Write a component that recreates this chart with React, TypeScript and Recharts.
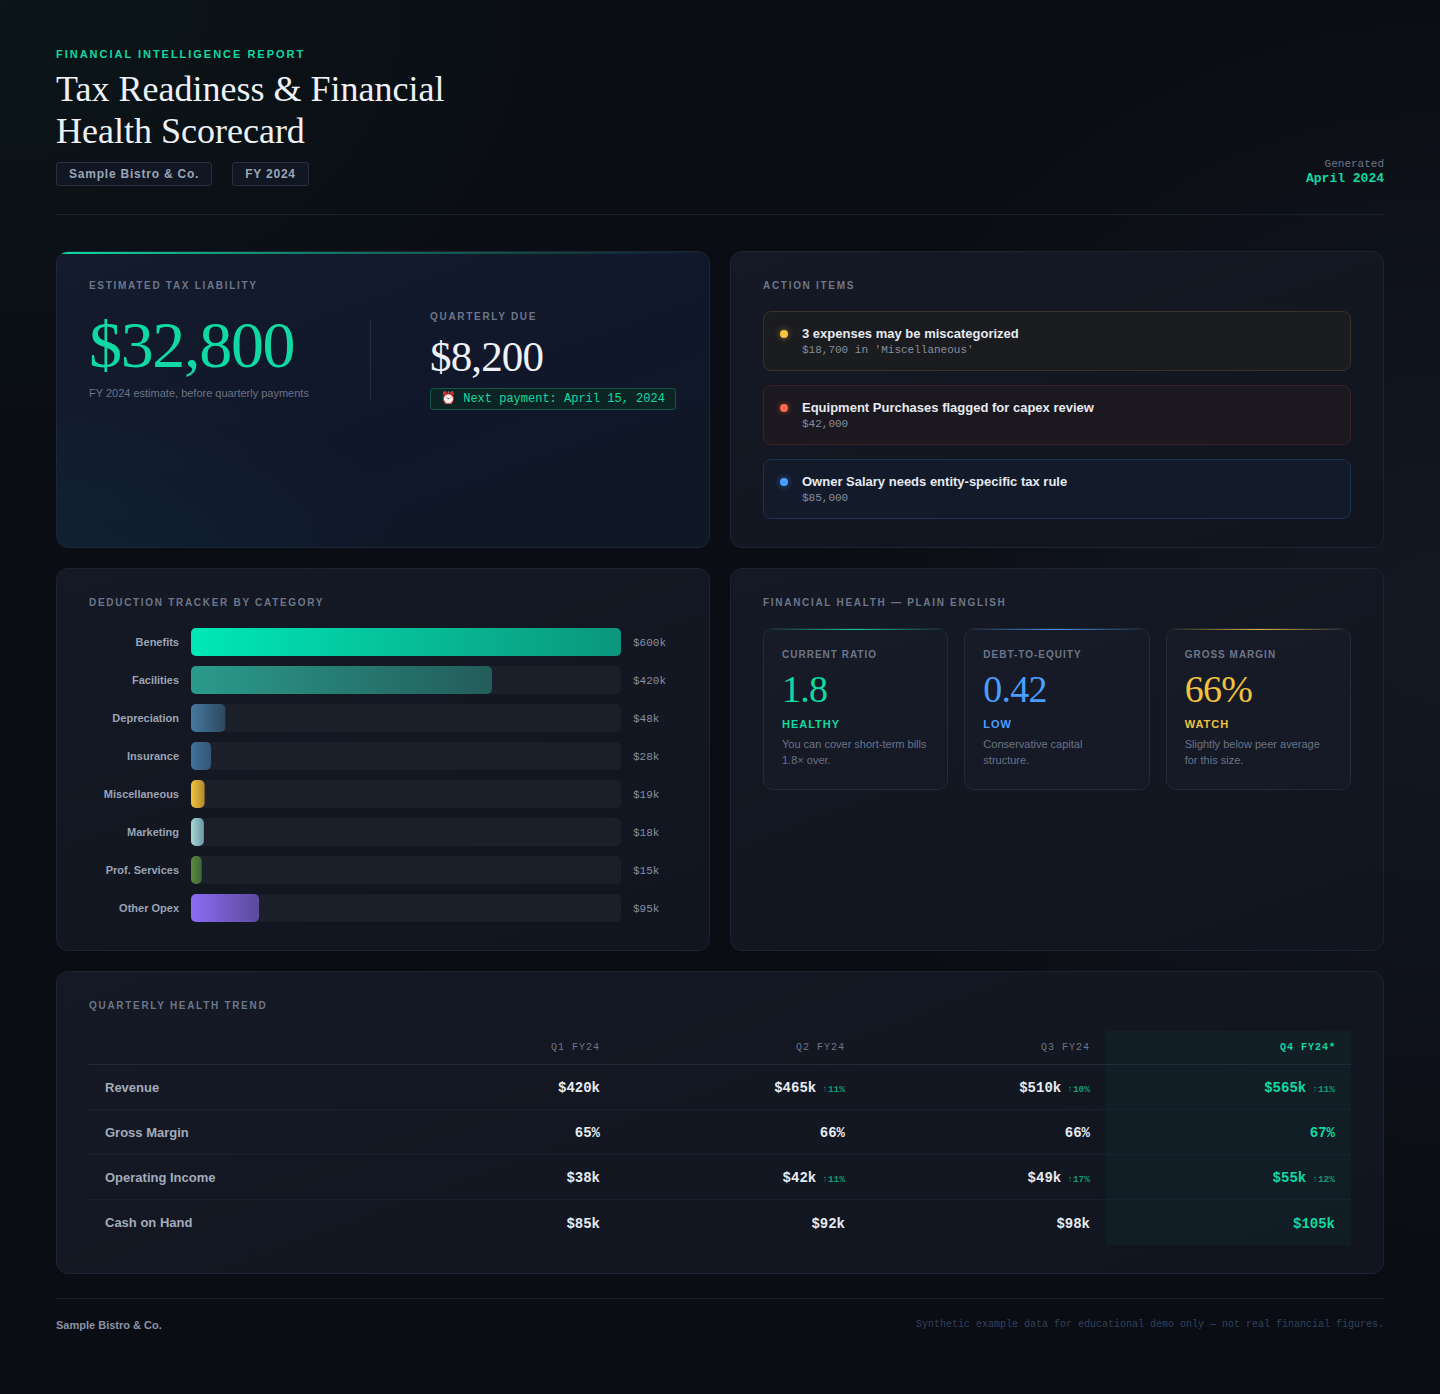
import React from 'react';
import { BarChart, Bar, XAxis, YAxis, Cell } from 'recharts';

const SANS = '"Liberation Sans", Arial, Helvetica, sans-serif';
const MONO = '"Liberation Mono", "DejaVu Sans Mono", monospace';
const SERIF = '"Liberation Serif", "Times New Roman", serif';

// ---------- Data ----------
const deductionCategories = ['Benefits', 'Facilities', 'Depreciation', 'Insurance', 'Miscellaneous', 'Marketing', 'Prof. Services', 'Other Opex'];
const deductionValues = [600, 420, 48, 28, 19, 18, 15, 95]; // $k
const deductionMax = 600;
const deductionColors: [string, string][] = [
  ['#00e8b7', '#0b967c'],
  ['#2a9b8b', '#235c5a'],
  ['#46799f', '#2e4760'],
  ['#40739a', '#33557a'],
  ['#f2c43a', '#b0882e'],
  ['#a9d6d6', '#6a98a2'],
  ['#5b8b3d', '#3e6838'],
  ['#8b6df3', '#5b4a9c'],
];

const actionTitles = ['3 expenses may be miscategorized', 'Equipment Purchases flagged for capex review', 'Owner Salary needs entity-specific tax rule'];
const actionDetails = ["$18,700 in 'Miscellaneous'", '$42,000', '$85,000'];

const healthLabels = ['CURRENT RATIO', 'DEBT-TO-EQUITY', 'GROSS MARGIN'];
const healthValues = ['1.8', '0.42', '66%'];
const healthStatus = ['HEALTHY', 'LOW', 'WATCH'];
const healthNotes = ['You can cover short-term bills 1.8× over.', 'Conservative capital structure.', 'Slightly below peer average for this size.'];

const quarters = ['Q1 FY24', 'Q2 FY24', 'Q3 FY24', 'Q4 FY24'];
const trendRows = ['Revenue', 'Gross Margin', 'Operating Income', 'Cash on Hand'];
const revenue = ['$420k', '$465k', '$510k', '$565k'];
const revenueChange = ['', '11%', '10%', '11%'];
const grossMargin = ['65%', '66%', '66%', '67%'];
const grossMarginChange = ['', '', '', ''];
const operatingIncome = ['$38k', '$42k', '$49k', '$55k'];
const operatingIncomeChange = ['', '11%', '17%', '12%'];
const cashOnHand = ['$85k', '$92k', '$98k', '$105k'];
const cashOnHandChange = ['', '', '', ''];
const trendValues = [revenue, grossMargin, operatingIncome, cashOnHand];
const trendChanges = [revenueChange, grossMarginChange, operatingIncomeChange, cashOnHandChange];

const deductionData = deductionCategories.map((name, i) => ({ name, value: deductionValues[i] }));

// ---------- Styles ----------
const GREEN = '#10d9a3';
const cardBase: React.CSSProperties = {
  position: 'absolute',
  borderRadius: 12,
  border: '1px solid #1d2330',
  background: 'linear-gradient(160deg, #141925 0%, #11151f 100%)',
  boxSizing: 'border-box',
  overflow: 'hidden',
};
const sectionLabel: React.CSSProperties = {
  position: 'absolute',
  left: 32,
  top: 28,
  fontFamily: SANS,
  fontSize: 10,
  fontWeight: 700,
  letterSpacing: '0.17em',
  color: '#6d7689',
  lineHeight: '12px',
  whiteSpace: 'nowrap',
};

const dotColors = ['#f5c542', '#ff6a4d', '#4a9eff'];
const itemBg = ['#1b1c20', '#1c1820', '#131b2b'];
const itemBorder = ['#373223', '#3b2127', '#1c3050'];
const healthColors = ['#10d9a3', '#4a9eff', '#f0c23f'];

function App() {
  return (
    <div
      style={{
        position: 'relative',
        width: 1440,
        height: 1394,
        overflow: 'hidden',
        background:
          'radial-gradient(ellipse 900px 700px at 0% 0%, rgba(16,60,50,0.18), transparent 70%), radial-gradient(ellipse 900px 900px at 100% 45%, rgba(30,36,52,0.5), transparent 70%), #0a0d13',
        fontFamily: SANS,
      }}
    >
      <style>{`body{margin:0;background:#0a0d13;}`}</style>

      {/* Header */}
      <div style={{ position: 'absolute', left: 56, top: 48, fontSize: 11, fontWeight: 700, letterSpacing: '0.18em', color: GREEN, lineHeight: '13px', whiteSpace: 'nowrap' }}>
        FINANCIAL INTELLIGENCE REPORT
      </div>
      <div style={{ position: 'absolute', left: 56, top: 68, fontFamily: SERIF, fontSize: 36, lineHeight: '42px', color: '#eef1f6', width: 460 }}>
        Tax Readiness &amp; Financial<br />Health Scorecard
      </div>
      <div style={{ position: 'absolute', left: 56, top: 162, display: 'flex', gap: 20 }}>
        {['Sample Bistro & Co.', 'FY 2024'].map((t) => (
          <div
            key={t}
            style={{
              height: 24,
              boxSizing: 'border-box',
              padding: '0 12px',
              border: '1px solid #283040',
              borderRadius: 3,
              background: '#111722',
              color: '#9aa5b7',
              fontSize: 12,
              fontWeight: 700,
              letterSpacing: '0.065em',
              lineHeight: '22px',
              whiteSpace: 'nowrap',
            }}
          >
            {t}
          </div>
        ))}
      </div>
      <div style={{ position: 'absolute', right: 56, top: 158, textAlign: 'right', fontFamily: MONO }}>
        <div style={{ fontSize: 11, color: '#6d7689', lineHeight: '13px' }}>Generated</div>
        <div style={{ fontSize: 13, fontWeight: 700, color: GREEN, lineHeight: '15px' }}>April 2024</div>
      </div>
      <div style={{ position: 'absolute', left: 56, width: 1328, top: 214, height: 1, background: '#1a202a' }} />

      {/* Tax liability card */}
      <div
        style={{
          ...cardBase,
          left: 56,
          top: 251,
          width: 654,
          height: 297,
          border: '1px solid #1b2636',
          background:
            'radial-gradient(ellipse 500px 260px at 0% 100%, rgba(16,217,163,0.05), transparent 70%), linear-gradient(160deg, #141b2c 0%, #10172a 55%, #0f1825 100%)',
        }}
      >
        <div style={{ position: 'absolute', left: 0, top: 0, width: '100%', height: 2, background: `linear-gradient(90deg, ${GREEN} 0%, rgba(16,217,163,0.5) 40%, rgba(16,217,163,0) 100%)` }} />
        <div style={sectionLabel}>ESTIMATED TAX LIABILITY</div>
        <div style={{ position: 'absolute', left: 32, top: 60, fontFamily: SERIF, fontSize: 66, lineHeight: '66px', color: GREEN, letterSpacing: '-0.02em', whiteSpace: 'nowrap' }}>
          $32,800
        </div>
        <div style={{ position: 'absolute', left: 32, top: 134, fontSize: 11, color: '#6b7386', lineHeight: '14px', whiteSpace: 'nowrap' }}>
          FY 2024 estimate, before quarterly payments
        </div>
        <div style={{ position: 'absolute', left: 313, top: 68, width: 1, height: 80, background: '#252d3b' }} />
        <div style={{ ...sectionLabel, left: 373, top: 59 }}>QUARTERLY DUE</div>
        <div style={{ position: 'absolute', left: 373, top: 83, fontFamily: SERIF, fontSize: 43, lineHeight: '43px', color: '#eef1f6', letterSpacing: '-0.02em', whiteSpace: 'nowrap' }}>
          $8,200
        </div>
        <div
          style={{
            position: 'absolute',
            left: 373,
            top: 136,
            height: 22,
            width: 246,
            boxSizing: 'border-box',
            border: '1px solid #12574a',
            background: '#0c2524',
            borderRadius: 3,
            color: GREEN,
            fontFamily: MONO,
            fontSize: 12,
            lineHeight: '20px',
            padding: '0 10px',
            whiteSpace: 'nowrap',
          }}
        >
          ⏰ Next payment: April 15, 2024
        </div>
      </div>

      {/* Action items */}
      <div style={{ ...cardBase, left: 730, top: 251, width: 654, height: 297 }}>
        <div style={sectionLabel}>ACTION ITEMS</div>
        {actionTitles.map((t, i) => (
          <div
            key={t}
            style={{
              position: 'absolute',
              left: 32,
              top: 59 + i * 74,
              width: 588,
              height: 60,
              boxSizing: 'border-box',
              borderRadius: 8,
              border: `1px solid ${itemBorder[i]}`,
              background: itemBg[i],
            }}
          >
            <div
              style={{
                position: 'absolute',
                left: 16,
                top: 18,
                width: 8,
                height: 8,
                borderRadius: '50%',
                background: dotColors[i],
                boxShadow: `0 0 6px ${dotColors[i]}88`,
              }}
            />
            <div style={{ position: 'absolute', left: 38, top: 14, fontSize: 13, fontWeight: 700, color: '#e6eaf1', lineHeight: '16px', whiteSpace: 'nowrap' }}>{t}</div>
            <div style={{ position: 'absolute', left: 38, top: 31, fontFamily: MONO, fontSize: 11, color: '#858d9e', lineHeight: '14px', whiteSpace: 'nowrap' }}>{actionDetails[i]}</div>
          </div>
        ))}
      </div>

      {/* Deduction tracker */}
      <div style={{ ...cardBase, left: 56, top: 568, width: 654, height: 383 }}>
        <div style={sectionLabel}>DEDUCTION TRACKER BY CATEGORY</div>
        <div style={{ position: 'absolute', left: 32, top: 54 }}>
          <BarChart
            layout="vertical"
            width={588}
            height={304}
            data={deductionData}
            margin={{ top: 0, right: 0, bottom: 0, left: 0 }}
            barSize={28}
            barCategoryGap={10}
          >
            <defs>
              {deductionColors.map((c, i) => (
                <linearGradient key={i} id={`ded-grad-${i}`} x1="0" y1="0" x2="1" y2="0">
                  <stop offset="0%" stopColor={c[0]} />
                  <stop offset="100%" stopColor={c[1]} />
                </linearGradient>
              ))}
            </defs>
            <XAxis type="number" domain={[0, deductionMax]} hide />
            <YAxis
              yAxisId="left"
              type="category"
              dataKey="name"
              width={102}
              axisLine={false}
              tickLine={false}
              tickSize={0}
              tickMargin={12}
              interval={0}
              tick={{ fill: '#9aa3b4', fontSize: 11, fontWeight: 700, fontFamily: SANS }}
            />
            <YAxis
              yAxisId="right"
              orientation="right"
              type="category"
              dataKey="name"
              width={56}
              axisLine={false}
              tickLine={false}
              tickSize={0}
              tickMargin={12}
              interval={0}
              tickFormatter={(v: string) => `$${deductionValues[deductionCategories.indexOf(v)]}k`}
              tick={{ fill: '#878fa0', fontSize: 11, fontFamily: MONO, textAnchor: 'start' }}
            />
            <Bar
              yAxisId="left"
              dataKey="value"
              radius={5}
              background={{ fill: '#1b1f29', radius: 5 }}
              isAnimationActive={false}
            >
              {deductionData.map((d, i) => (
                <Cell key={d.name} fill={`url(#ded-grad-${i})`} />
              ))}
            </Bar>
          </BarChart>
        </div>
      </div>

      {/* Financial health */}
      <div style={{ ...cardBase, left: 730, top: 568, width: 654, height: 383 }}>
        <div style={sectionLabel}>FINANCIAL HEALTH — PLAIN ENGLISH</div>
        <div style={{ position: 'absolute', left: 32, top: 59, width: 588, height: 162, display: 'flex', gap: 16 }}>
          {healthLabels.map((l, i) => (
            <div
              key={l}
              style={{
                position: 'relative',
                flex: 1,
                height: 162,
                boxSizing: 'border-box',
                borderRadius: 10,
                border: '1px solid #232a37',
                background: 'linear-gradient(160deg, #161b27 0%, #141925 100%)',
                overflow: 'hidden',
              }}
            >
              <div style={{ position: 'absolute', left: 0, top: 0, width: '100%', height: 1, background: `linear-gradient(90deg, transparent 0%, ${healthColors[i]} 50%, transparent 100%)`, opacity: 0.9 }} />
              <div style={{ position: 'absolute', left: 18, top: 20, fontSize: 10, fontWeight: 700, letterSpacing: '0.1em', color: '#6d7689', lineHeight: '12px', whiteSpace: 'nowrap' }}>{l}</div>
              <div style={{ position: 'absolute', left: 18, top: 41, fontFamily: SERIF, fontSize: 38, lineHeight: '38px', color: healthColors[i], letterSpacing: '-0.02em', whiteSpace: 'nowrap' }}>{healthValues[i]}</div>
              <div style={{ position: 'absolute', left: 18, top: 89, fontSize: 11, fontWeight: 700, letterSpacing: '0.09em', color: healthColors[i], lineHeight: '12px' }}>{healthStatus[i]}</div>
              <div style={{ position: 'absolute', left: 18, top: 107, width: 146, fontSize: 11, color: '#6b7386', lineHeight: '16px' }}>{healthNotes[i]}</div>
            </div>
          ))}
        </div>
      </div>

      {/* Quarterly trend */}
      <div style={{ ...cardBase, left: 56, top: 971, width: 1328, height: 303 }}>
        <div style={sectionLabel}>QUARTERLY HEALTH TREND</div>
        <div style={{ position: 'absolute', left: 32, top: 59, width: 1262 }}>
          <div style={{ position: 'absolute', left: 1017, top: 0, width: 245, height: 214, background: 'rgba(16,217,163,0.045)' }} />
          <div style={{ position: 'relative', display: 'flex', height: 34, borderBottom: '1px solid #222937', boxSizing: 'border-box' }}>
            <div style={{ width: 282 }} />
            {quarters.map((q, i) => (
              <div
                key={q}
                style={{
                  width: 245,
                  boxSizing: 'border-box',
                  paddingRight: 16,
                  textAlign: 'right',
                  fontFamily: MONO,
                  fontSize: 10,
                  letterSpacing: '0.1em',
                  color: i === 3 ? GREEN : '#6d7689',
                  fontWeight: i === 3 ? 700 : 400,
                  lineHeight: '33px',
                  whiteSpace: 'nowrap',
                }}
              >
                {q}
                {i === 3 ? <sup style={{ fontSize: 10, letterSpacing: 0, verticalAlign: 'top', lineHeight: '27px' }}>★</sup> : null}
              </div>
            ))}
          </div>
          {trendRows.map((r, ri) => (
            <div key={r} style={{ position: 'relative', display: 'flex', height: 45, borderBottom: ri < 3 ? '1px solid #1b212c' : 'none', boxSizing: 'border-box', alignItems: 'center' }}>
              <div style={{ width: 282, paddingLeft: 16, boxSizing: 'border-box', fontSize: 13, fontWeight: 700, color: '#a3abbb', whiteSpace: 'nowrap' }}>{r}</div>
              {trendValues[ri].map((v, qi) => (
                <div
                  key={qi}
                  style={{
                    width: 245,
                    boxSizing: 'border-box',
                    paddingRight: 16,
                    textAlign: 'right',
                    fontFamily: MONO,
                    fontSize: 14,
                    fontWeight: 700,
                    color: qi === 3 ? GREEN : '#e7ebf2',
                    whiteSpace: 'nowrap',
                    paddingTop: 2,
                  }}
                >
                  {v}
                  {trendChanges[ri][qi] ? (
                    <span style={{ fontSize: 9.5, fontWeight: 700, color: '#0f9c74', marginLeft: 6 }}>↑{trendChanges[ri][qi]}</span>
                  ) : null}
                </div>
              ))}
            </div>
          ))}
        </div>
      </div>

      {/* Footer */}
      <div style={{ position: 'absolute', left: 56, width: 1328, top: 1298, height: 1, background: '#1a202a' }} />
      <div style={{ position: 'absolute', left: 56, top: 1318, fontSize: 11, fontWeight: 700, color: '#8a93a6', lineHeight: '14px' }}>Sample Bistro &amp; Co.</div>
      <div style={{ position: 'absolute', right: 56, top: 1318, fontFamily: MONO, fontSize: 10, color: '#34425a', lineHeight: '13px', whiteSpace: 'nowrap' }}>
        Synthetic example data for educational demo only — not real financial figures.
      </div>
    </div>
  );
}

export default App;
